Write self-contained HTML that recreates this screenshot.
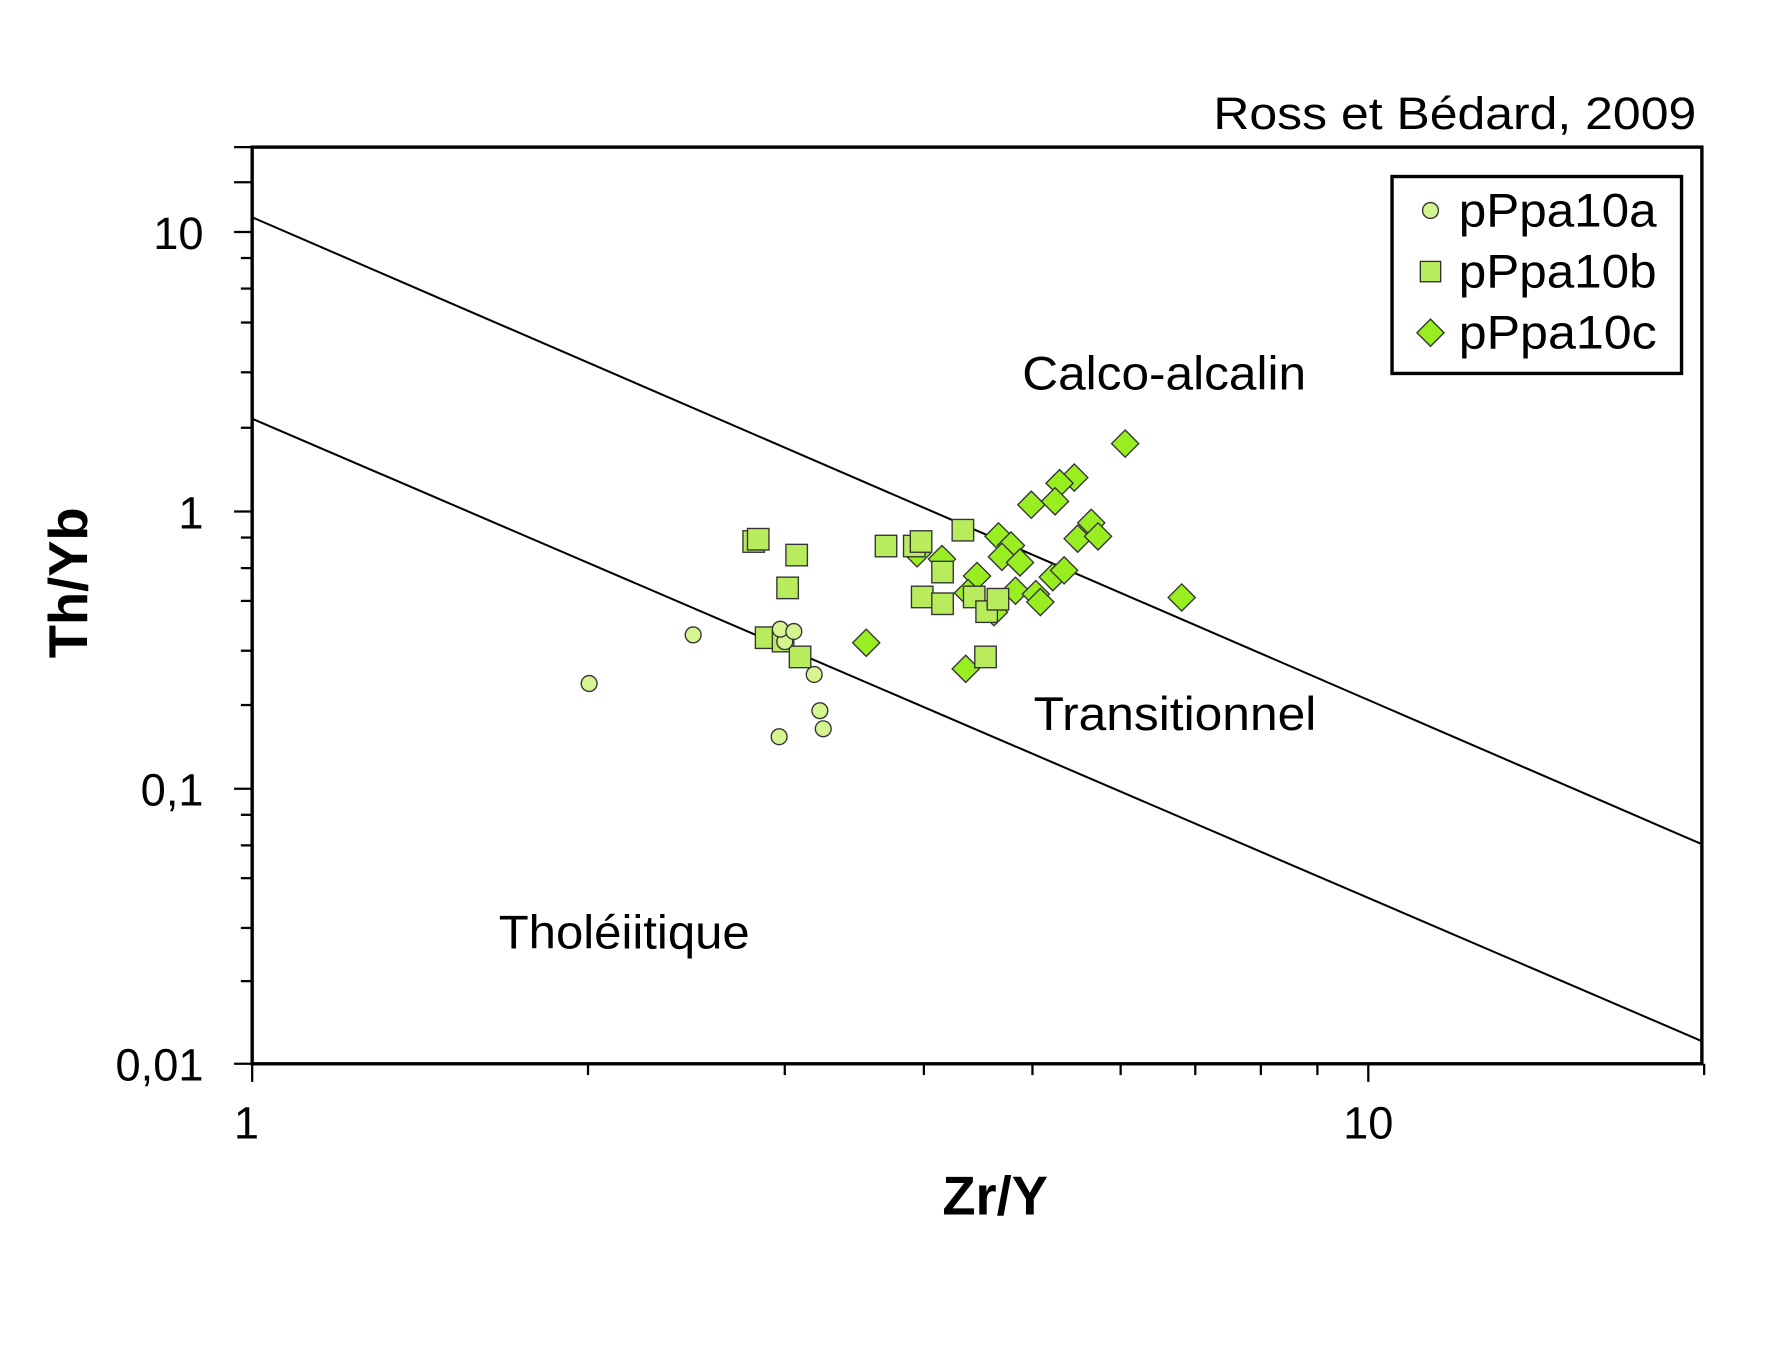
<!DOCTYPE html>
<html><head><meta charset="utf-8"><style>
html,body{margin:0;padding:0;background:#fff;}
svg{display:block;}
text{font-family:"Liberation Sans",Arial,sans-serif;fill:#000;}
</style></head><body>
<svg width="1772" height="1358" viewBox="0 0 1567 1200" preserveAspectRatio="none" xmlns="http://www.w3.org/2000/svg">
<rect width="1567" height="1200" fill="#fff"/>
<text x="1073" y="114" font-size="40" textLength="427" lengthAdjust="spacingAndGlyphs">Ross et Bédard, 2009</text>
<rect x="223" y="130" width="1282" height="810" fill="none" stroke="#000" stroke-width="3"/>
<line x1="223" y1="192" x2="1505" y2="746" stroke="#000" stroke-width="1.8"/>
<line x1="223" y1="370" x2="1505" y2="920" stroke="#000" stroke-width="1.8"/>
<g stroke="#000" stroke-width="2">
<line x1="207" y1="205" x2="223" y2="205"/>
<line x1="207" y1="452" x2="223" y2="452"/>
<line x1="207" y1="697" x2="223" y2="697"/>
<line x1="207" y1="940" x2="223" y2="940"/>
<line x1="207" y1="130" x2="223" y2="130"/>
<line x1="207" y1="161" x2="223" y2="161"/>
<line x1="213" y1="228" x2="223" y2="228"/>
<line x1="213" y1="255" x2="223" y2="255"/>
<line x1="213" y1="285" x2="223" y2="285"/>
<line x1="213" y1="329" x2="223" y2="329"/>
<line x1="213" y1="378" x2="223" y2="378"/>
<line x1="213" y1="475" x2="223" y2="475"/>
<line x1="213" y1="502" x2="223" y2="502"/>
<line x1="213" y1="531" x2="223" y2="531"/>
<line x1="213" y1="575" x2="223" y2="575"/>
<line x1="213" y1="623" x2="223" y2="623"/>
<line x1="213" y1="720" x2="223" y2="720"/>
<line x1="213" y1="747" x2="223" y2="747"/>
<line x1="213" y1="776" x2="223" y2="776"/>
<line x1="213" y1="820" x2="223" y2="820"/>
<line x1="213" y1="867" x2="223" y2="867"/>
<line x1="223" y1="940" x2="223" y2="956"/>
<line x1="1210" y1="940" x2="1210" y2="956"/>
<line x1="520" y1="940" x2="520" y2="950"/>
<line x1="694" y1="940" x2="694" y2="950"/>
<line x1="817" y1="940" x2="817" y2="950"/>
<line x1="913" y1="940" x2="913" y2="950"/>
<line x1="991" y1="940" x2="991" y2="950"/>
<line x1="1057" y1="940" x2="1057" y2="950"/>
<line x1="1115" y1="940" x2="1115" y2="950"/>
<line x1="1165" y1="940" x2="1165" y2="950"/>
<line x1="1507" y1="940" x2="1507" y2="950"/>
</g>
<g font-size="40" text-anchor="end">
<text x="180" y="220">10</text>
<text x="180" y="467">1</text>
<text x="180" y="712">0,1</text>
<text x="180" y="955">0,01</text>
</g>
<g font-size="40" text-anchor="middle">
<text x="218" y="1006">1</text>
<text x="1210" y="1006">10</text>
</g>
<text x="880" y="1073" font-size="48" font-weight="bold" text-anchor="middle">Zr/Y</text>
<text transform="translate(77,515) rotate(-90)" font-size="48" font-weight="bold" text-anchor="middle">Th/Yb</text>
<g font-size="42">
<text x="904" y="344" textLength="251" lengthAdjust="spacingAndGlyphs">Calco-alcalin</text>
<text x="914" y="645" textLength="250" lengthAdjust="spacingAndGlyphs">Transitionnel</text>
<text x="441" y="838" textLength="222" lengthAdjust="spacingAndGlyphs">Tholéiitique</text>
</g>
<rect x="1231" y="156" width="256" height="174" fill="#fff" stroke="#000" stroke-width="3"/>
<circle cx="1265" cy="186" r="7" fill="#d4f590" stroke="#333" stroke-width="1.2"/>
<rect x="1256" y="231" width="18" height="18" fill="#b8ec5c" stroke="#333" stroke-width="1.2"/>
<polygon points="1265,282 1277,294 1265,306 1253,294" fill="#99ee22" stroke="#333" stroke-width="1.2"/>
<g font-size="42">
<text x="1290" y="200" textLength="175" lengthAdjust="spacingAndGlyphs">pPpa10a</text>
<text x="1290" y="254" textLength="175" lengthAdjust="spacingAndGlyphs">pPpa10b</text>
<text x="1290" y="308" textLength="175" lengthAdjust="spacingAndGlyphs">pPpa10c</text>
</g>
<g fill="#99ee22" stroke="#333" stroke-width="1.2">
<polygon points="0,-12 12,0 0,12 -12,0" transform="translate(995,392)"/>
<polygon points="0,-12 12,0 0,12 -12,0" transform="translate(950,422)"/>
<polygon points="0,-12 12,0 0,12 -12,0" transform="translate(937,427)"/>
<polygon points="0,-12 12,0 0,12 -12,0" transform="translate(912,446)"/>
<polygon points="0,-12 12,0 0,12 -12,0" transform="translate(933,443)"/>
<polygon points="0,-12 12,0 0,12 -12,0" transform="translate(965,462)"/>
<polygon points="0,-12 12,0 0,12 -12,0" transform="translate(953,476)"/>
<polygon points="0,-12 12,0 0,12 -12,0" transform="translate(971,474)"/>
<polygon points="0,-12 12,0 0,12 -12,0" transform="translate(883,474)"/>
<polygon points="0,-12 12,0 0,12 -12,0" transform="translate(894,482)"/>
<polygon points="0,-12 12,0 0,12 -12,0" transform="translate(886,492)"/>
<polygon points="0,-12 12,0 0,12 -12,0" transform="translate(902,497)"/>
<polygon points="0,-12 12,0 0,12 -12,0" transform="translate(833,494)"/>
<polygon points="0,-12 12,0 0,12 -12,0" transform="translate(811,489)"/>
<polygon points="0,-12 12,0 0,12 -12,0" transform="translate(864,509)"/>
<polygon points="0,-12 12,0 0,12 -12,0" transform="translate(856,524)"/>
<polygon points="0,-12 12,0 0,12 -12,0" transform="translate(879,541)"/>
<polygon points="0,-12 12,0 0,12 -12,0" transform="translate(898,522)"/>
<polygon points="0,-12 12,0 0,12 -12,0" transform="translate(916,525)"/>
<polygon points="0,-12 12,0 0,12 -12,0" transform="translate(920,532)"/>
<polygon points="0,-12 12,0 0,12 -12,0" transform="translate(931,510)"/>
<polygon points="0,-12 12,0 0,12 -12,0" transform="translate(941,504)"/>
<polygon points="0,-12 12,0 0,12 -12,0" transform="translate(1045,528)"/>
<polygon points="0,-12 12,0 0,12 -12,0" transform="translate(766,568)"/>
<polygon points="0,-12 12,0 0,12 -12,0" transform="translate(854,591)"/>
</g>
<g fill="#b8ec5c" stroke="#333" stroke-width="1.2">
<rect x="657" y="469" width="19" height="19"/>
<rect x="661" y="467" width="19" height="19"/>
<rect x="695" y="481" width="19" height="19"/>
<rect x="687" y="510" width="19" height="19"/>
<rect x="668" y="554" width="19" height="19"/>
<rect x="683" y="557" width="19" height="19"/>
<rect x="698" y="571" width="19" height="19"/>
<rect x="774" y="473" width="19" height="19"/>
<rect x="799" y="473" width="19" height="19"/>
<rect x="805" y="469" width="19" height="19"/>
<rect x="806" y="518" width="19" height="19"/>
<rect x="824" y="496" width="19" height="19"/>
<rect x="824" y="524" width="19" height="19"/>
<rect x="842" y="459" width="19" height="19"/>
<rect x="852" y="518" width="19" height="19"/>
<rect x="863" y="531" width="19" height="19"/>
<rect x="873" y="520" width="19" height="19"/>
<rect x="862" y="571" width="19" height="19"/>
</g>
<g fill="#d4f590" stroke="#333" stroke-width="1.2">
<circle cx="521" cy="604" r="7"/>
<circle cx="613" cy="561" r="7"/>
<circle cx="694" cy="567" r="7"/>
<circle cx="690" cy="556" r="7"/>
<circle cx="702" cy="558" r="7"/>
<circle cx="720" cy="596" r="7"/>
<circle cx="725" cy="628" r="7"/>
<circle cx="728" cy="644" r="7"/>
<circle cx="689" cy="651" r="7"/>
</g>
</svg>
</body></html>
